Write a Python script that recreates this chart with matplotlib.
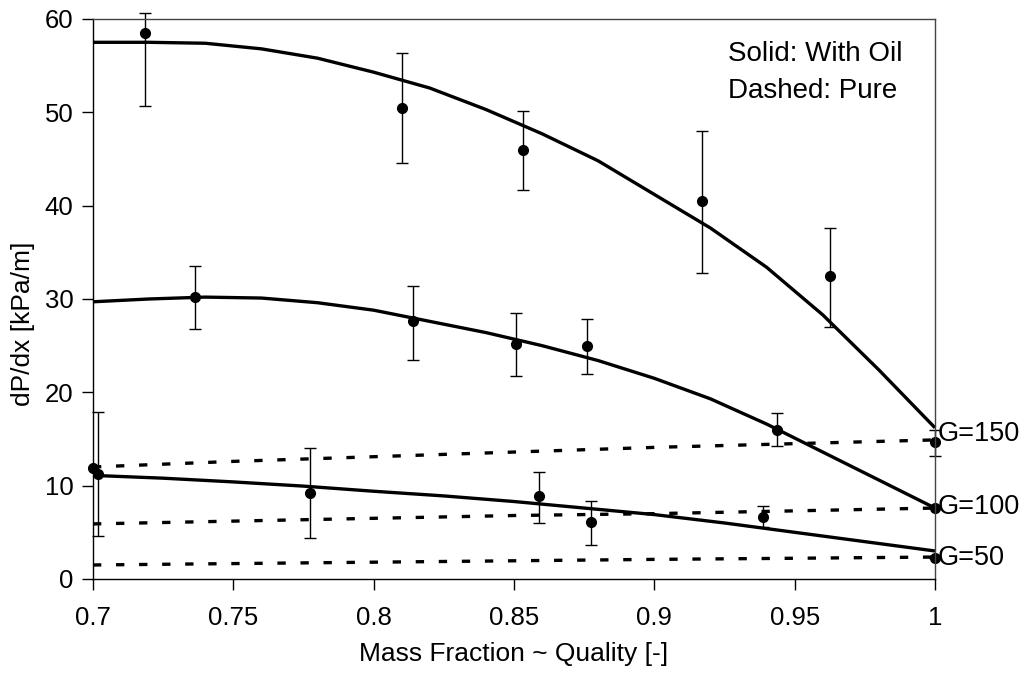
import matplotlib
matplotlib.use("Agg")
import matplotlib.pyplot as plt

plt.rcParams['font.family'] = ['Liberation Sans', 'DejaVu Sans']
plt.rcParams['lines.scale_dashes'] = False

# measured points (with oil), per mass flux
g150_x = [0.7185, 0.810, 0.8533, 0.917, 0.9626, 1.0]
g150_y = [58.5, 50.5, 46.0, 40.5, 32.5, 14.7]
g150_lo = [50.7, 44.6, 41.7, 32.8, 27.0, 13.2]
g150_hi = [60.6, 56.4, 50.1, 48.0, 37.6, 16.0]

g100_x = [0.7363, 0.8141, 0.8506, 0.8759, 0.9436, 1.0]
g100_y = [30.25, 27.6, 25.2, 25.0, 16.0, 7.57]
g100_lo = [26.8, 23.5, 21.7, 22.0, 14.25, 7.57]
g100_hi = [33.5, 31.4, 28.5, 27.9, 17.75, 7.57]

g50_x = [0.7018, 0.7775, 0.8589, 0.8774, 0.9388, 1.0]
g50_y = [11.3, 9.25, 8.93, 6.07, 6.68, 2.28]
g50_lo = [4.6, 4.36, 6.04, 3.64, 5.6, 2.28]
g50_hi = [17.9, 14.07, 11.5, 8.4, 7.86, 2.28]
g50_extra_x = [0.7]
g50_extra_y = [11.9]

# fitted curves (solid = with oil)
fit_x = [0.70, 0.72, 0.74, 0.76, 0.78, 0.80, 0.82, 0.84, 0.86, 0.88, 0.90, 0.92, 0.94, 0.96, 0.98, 1.00]
fit150 = [57.5, 57.5, 57.4, 56.8, 55.8, 54.3, 52.6, 50.3, 47.7, 44.8, 41.2, 37.6, 33.4, 28.3, 22.4, 16.2]
fit100 = [29.7, 30.0, 30.2, 30.1, 29.6, 28.8, 27.6, 26.4, 25.0, 23.4, 21.5, 19.3, 16.6, 13.6, 10.6, 7.6]
fit50_x = [0.70, 0.725, 0.75, 0.775, 0.80, 0.825, 0.85, 0.875, 0.90, 0.925, 0.95, 0.975, 1.00]
fit50 = [11.1, 10.8, 10.4, 9.95, 9.4, 8.9, 8.3, 7.6, 6.9, 6.0, 5.0, 4.0, 3.0]

# pure refrigerant (dashed)
pure_x = [0.70, 0.75, 0.80, 0.85, 0.90, 0.95, 1.00]
pure150 = [12.0, 12.6, 13.1, 13.6, 14.1, 14.5, 14.9]
pure100 = [5.9, 6.2, 6.5, 6.8, 7.0, 7.3, 7.6]
pure50 = [1.5, 1.65, 1.8, 1.95, 2.1, 2.22, 2.35]

labels = ["G=150", "G=100", "G=50"]
label_y = [15.5, 7.75, 2.2]

fig = plt.figure(figsize=(10.25, 6.73), dpi=100)
ax = fig.add_axes([0.0907, 0.1397, 0.8215, 0.8321])

for y in [pure150, pure100, pure50]:
    ax.plot(pure_x, y, color='black', lw=2.4, dashes=(6, 10.6), clip_on=False)

for fx, fy in [(fit_x, fit150), (fit_x, fit100), (fit50_x, fit50)]:
    ax.plot(fx, fy, color='black', lw=2.4, solid_capstyle='butt', clip_on=False)

for x, y, lo, hi in [(g150_x, g150_y, g150_lo, g150_hi),
                     (g100_x, g100_y, g100_lo, g100_hi),
                     (g50_x, g50_y, g50_lo, g50_hi)]:
    err = [[a - b for a, b in zip(y, lo)], [b - a for a, b in zip(y, hi)]]
    ax.errorbar(x, y, yerr=err, fmt='o', color='black', ms=7, elinewidth=1,
                capsize=4, capthick=1, clip_on=False)
ax.plot(g50_extra_x, g50_extra_y, 'o', color='black', ms=7, clip_on=False)

for lab, ly in zip(labels, label_y):
    ax.annotate(lab, (1.0, ly), xytext=(2, 0), textcoords='offset points',
                fontsize=19.5, va='center', ha='left', annotation_clip=False)

ax.text(0.754, 0.925, "Solid: With Oil", transform=ax.transAxes, fontsize=20, va='baseline')
ax.text(0.754, 0.8595, "Dashed: Pure", transform=ax.transAxes, fontsize=20, va='baseline')

ax.set_xlim(0.7, 1.0)
ax.set_ylim(0, 60)
ax.set_xticks([0.7, 0.75, 0.8, 0.85, 0.9, 0.95, 1.0])
ax.set_xticklabels(["0.7", "0.75", "0.8", "0.85", "0.9", "0.95", "1"])
ax.set_yticks([0, 10, 20, 30, 40, 50, 60])
ax.tick_params(axis='both', labelsize=18.5, length=8, width=1, direction='out')
ax.tick_params(axis='x', pad=11.5)
ax.tick_params(axis='y', pad=6)

ax.set_xlabel("Mass Fraction ~ Quality [-]", fontsize=19)
ax.set_ylabel("dP/dx [kPa/m]", fontsize=19)
ax.xaxis.set_label_coords(0.5, -0.112)
ax.yaxis.set_label_coords(-0.069, 0.455)

for s in ['left', 'bottom']:
    ax.spines[s].set_linewidth(1)
    ax.spines[s].set_color('black')
for s in ['top', 'right']:
    ax.spines[s].set_linewidth(1)
    ax.spines[s].set_color('#444444')

fig.savefig("out.png", dpi=100)
